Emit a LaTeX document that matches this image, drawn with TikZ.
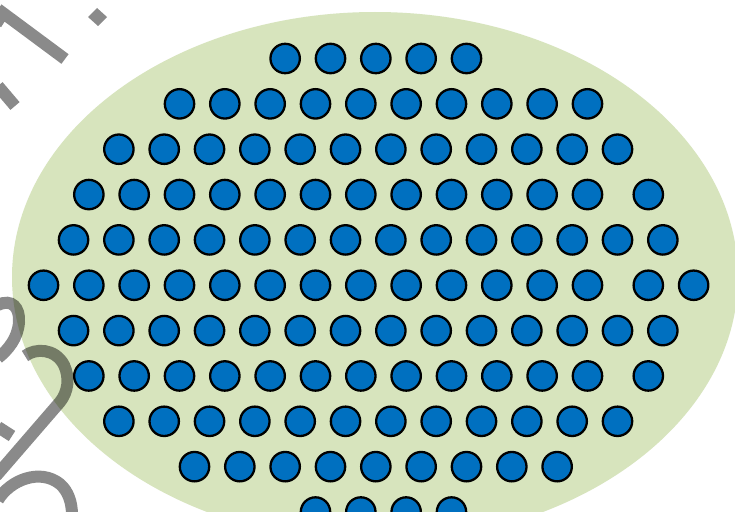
\documentclass[tikz,border=0pt]{standalone}
\definecolor{fibgreen}{HTML}{D7E4BD}
\definecolor{fibblue}{HTML}{0070C0}
\tikzset{
  fiber/.style={circle, draw=black, fill=fibblue, line width=2.3pt, minimum size=29.4pt, inner sep=0pt},
  wmark/.style={draw=black, draw opacity=0.46, line width=12pt},
  wdot/.style={fill=black, fill opacity=0.46},
  cladding/.style={fill=fibgreen}
}
% #1 row, #2 first k, #3 last k, #4 x offset, #5 tag
\newcommand\fibrow[5]{%
  \foreach \k in {#2,...,#3}{%
    \node[fiber] (f#1#5\k) at ({179.5+45.33*\k+#4},{58.5+45.35*(#1-1)}) {};
  }%
}
\begin{document}
\begin{tikzpicture}[x=1pt,y=-1pt]
\useasboundingbox (0,0) rectangle (735,511);
\begin{scope}
\clip (0,0) rectangle (735,511);
\fill[white] (0,0) rectangle (735,511);
\fill[cladding] (375,277) ellipse [x radius=363, y radius=265];
% rows of fibres
\fibrow{1}{2}{6}{15}{a}
\fibrow{2}{0}{9}{0}{a}
\fibrow{3}{-1}{10}{-15.3}{a}
\fibrow{4}{-2}{9}{0}{a}
\fibrow{4}{10}{10}{15.5}{b}
\fibrow{5}{-2}{11}{-15.3}{a}
\fibrow{6}{-3}{9}{0}{a}
\fibrow{6}{10}{11}{15.5}{b}
\fibrow{7}{-2}{11}{-15.3}{a}
\fibrow{8}{-2}{9}{0}{a}
\fibrow{8}{10}{10}{15.5}{b}
\fibrow{9}{-1}{10}{-15.3}{a}
\fibrow{10}{0}{8}{15}{a}
\fibrow{11}{3}{6}{0}{a}
% watermark fragments
\draw[wmark, line join=miter] (-4,24) -- (3,13) -- (65,59);
\draw[wmark] (-2,86) -- (15,106);
\fill[wdot] (97,8) -- (107,17) -- (98,26) -- (88,17) -- cycle;
\draw[wmark] (-2,305) .. controls (12,298) and (20,308) .. (19,322)
  .. controls (18,338) and (8,350) .. (-2,358);
\draw[wmark] (25,356) .. controls (35,348) and (55,348) .. (64,365)
  .. controls (70,378) and (68,392) .. (60,402) -- (-4,476);
\draw[wmark] (-2,427) -- (12,436);
\draw[wmark] (-2,500) .. controls (10,480) and (40,468) .. (60,484)
  .. controls (68,491) and (72,502) .. (72,515);
\end{scope}
\end{tikzpicture}
\end{document}
